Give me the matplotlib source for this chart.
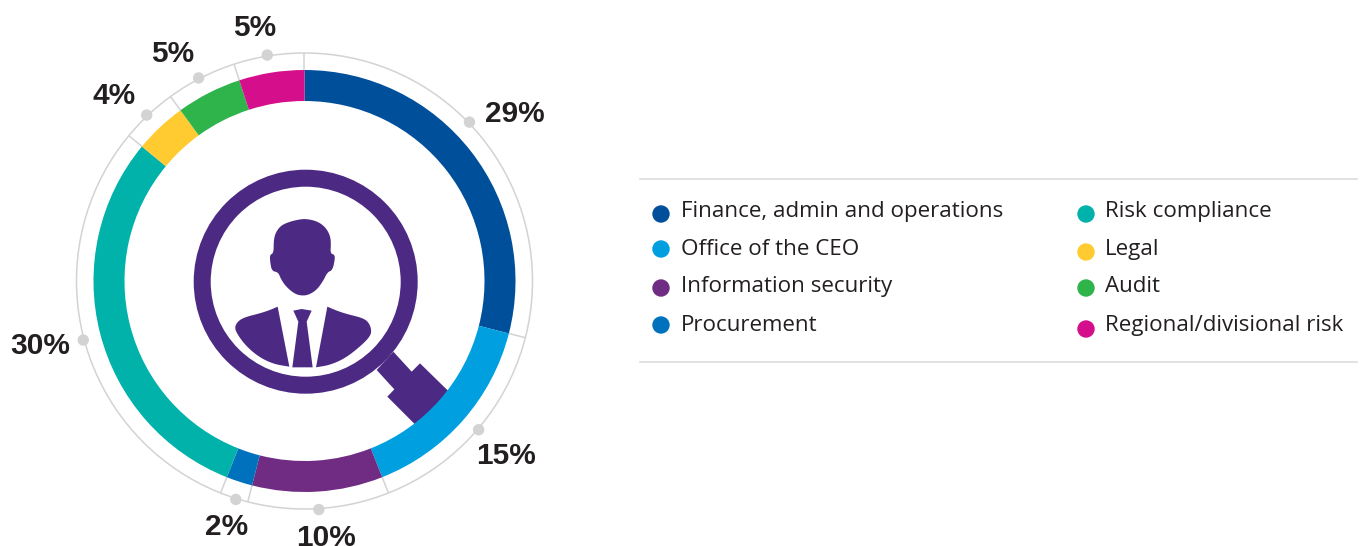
import numpy as np
import matplotlib
matplotlib.use('Agg')
import matplotlib.pyplot as plt
from matplotlib.patches import Polygon, Circle

categories = ["Finance, admin and operations", "Office of the CEO", "Information security", "Procurement",
              "Risk compliance", "Legal", "Audit", "Regional/divisional risk"]
values = [29, 15, 10, 2, 30, 4, 5, 5]
labels = ["29%", "15%", "10%", "2%", "30%", "4%", "5%", "5%"]
colors = ["#004F9A", "#009FDF", "#702B82", "#0071BC", "#00B2A9", "#FFCB31", "#2FB44C", "#D50F8C"]
dot_shift = [-1.7, -0.25, 0, -0.15, -0.15, -0.1, -0.15, -0.1]

W, H = 1361, 546
CX, CY = 304.5, 281
R_OUT, R_IN, R_RIM = 211, 180, 228
ICON = "#4C2A84"; GREY = "#D3D3D3"; INK = "#231F20"

fig = plt.figure(figsize=(W/100, H/100), dpi=100)
ax = fig.add_axes([0, 0, 1, 1])

def Y(py):
    return H - py
def polar(share, r):
    a = np.deg2rad(share * 3.6)
    return CX + r*np.sin(a), Y(CY) + r*np.cos(a)
def zoomed(pts):
    return [(180 + x/3, Y(160 + y/3)) for x, y in pts]
def smooth(pts, n=3, closed=False):
    p = np.asarray(pts, float)
    for _ in range(n):
        q = np.roll(p, -1, axis=0) if closed else p[1:]
        a = p if closed else p[:-1]
        new = np.empty((2*len(a), 2))
        new[0::2] = 0.75*a + 0.25*q
        new[1::2] = 0.25*a + 0.75*q
        p = new if closed else np.vstack([p[:1], new, p[-1:]])
    return [tuple(v) for v in p]

# rim
ax.add_patch(Circle((CX, Y(CY)), R_RIM, fill=False, ec=GREY, lw=1.1, zorder=1))
cum = np.cumsum(values)
for c in np.r_[0, cum[:-1]]:
    a, b = polar(c, R_OUT-2), polar(c, R_RIM)
    ax.plot([a[0], b[0]], [a[1], b[1]], color=GREY, lw=1.1, zorder=1, solid_capstyle='butt')

# magnifier handle (under the ring)
ax.add_patch(Polygon(zoomed([(640,575),(695,635),(720,610),(815,703),(715,803),(622,710),(643,688),(590,630)]),
                     fc=ICON, ec='none', zorder=2))

# ring
ax.pie(values, colors=colors, startangle=90, counterclock=False, radius=R_OUT, center=(CX, Y(CY)),
       wedgeprops=dict(width=R_OUT-R_IN, linewidth=0, zorder=3), frame=False)
for w in ax.patches:
    if hasattr(w, 'theta1'):
        w.set_zorder(3)

# dots and value labels (x centre, baseline)
lab_xy = [(515,122),(506,464),(326,546),(227,535),(40,354),(114,104),(173,62),(255,36)]
starts = np.r_[0, cum[:-1]]
for s, v, shift, lab, (lx, ly) in zip(starts, values, dot_shift, labels, lab_xy):
    px, py = polar(s + v/2 + shift, R_RIM + 1)
    ax.add_patch(Circle((px, py), 5.7, fc=GREY, ec='none', zorder=4))
    ax.text(lx, Y(ly), lab, ha='center', va='baseline', family='Liberation Sans', weight='bold',
            fontsize=21.5, color=INK, zorder=5)

# magnifier lens
lens = (305.7, Y(281.7))
ax.add_patch(Circle(lens, 103.5, fill=False, ec=ICON, lw=17*0.72, zorder=4))

# person
head = [(350,180),(375,176),(410,183),(435,200),(450,225),(453,250),(451,280),(463,284),(465,295),(458,330),(442,337),
        (430,362),(410,390),(385,405),(365,407),(345,402),(320,382),(303,358),(295,337),(276,333),(271,310),(269,285),
        (281,279),(281,240),(288,215),(305,195),(330,185)]
left = [(293,440)] + smooth([(293,440),(270,450),(240,460),(200,470),(178,480),(165,497),(167,515),(195,555),(235,590),(280,612),(328,620)])[1:-1] + [(328,620)]
right = [(442,440)] + smooth([(442,440),(470,452),(500,462),(545,473),(565,485),(575,510),(570,530),(540,560),(495,595),(450,615),(408,622)])[1:-1] + [(408,622)]
tie = [(340,452),(365,447),(395,452),(380,485),(398,622),(337,622),(355,485)]
for shape in (smooth(head, 2, closed=True), left, right, tie):
    ax.add_patch(Polygon(zoomed(shape), fc=ICON, ec='none', zorder=4))

# legend
ax.plot([640, 1357], [Y(179), Y(179)], color="#D9D9D9", lw=1.1)
ax.plot([640, 1357], [Y(362), Y(362)], color="#D9D9D9", lw=1.1)
dot_pos = [(661,214),(661,249),(661,288),(661,325),(1086,214),(1086,252),(1086,288),(1086,329)]
text_pos = [(681,217),(681,255),(681,292),(681,331),(1105,217),(1105,255),(1105,292),(1105,331)]
for name, col, (dx, dy), (tx, ty) in zip(categories, colors, dot_pos, text_pos):
    ax.add_patch(Circle((dx, Y(dy)), 8.7, fc=col, ec='none', zorder=4))
    ax.text(tx, Y(ty), name, ha='left', va='baseline', family='Open Sans', fontsize=16.1, color=INK)

ax.set_xlim(0, W); ax.set_ylim(0, H)
ax.set_aspect('auto')
ax.axis('off')
fig.savefig('out.png', dpi=100, facecolor='white')
